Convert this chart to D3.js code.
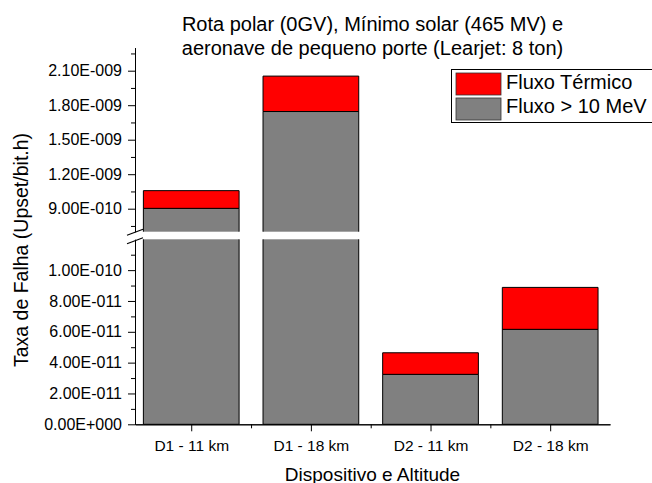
<!DOCTYPE html>
<html>
<head>
<meta charset="utf-8">
<script src="https://cdn.jsdelivr.net/npm/d3@7"></script>
<style>
  body { margin: 0; background: #fff; }
  svg { display: block; font-family: "Liberation Sans", Arial, sans-serif; }
</style>
</head>
<body>
<svg id="chart" width="652" height="483"></svg>
<script>
'use strict';

// data
var categories = ["D1 - 11 km", "D1 - 18 km", "D2 - 11 km", "D2 - 18 km"];
var fluxoAlto = [9.03e-10, 1.745e-9, 3.24e-11, 6.16e-11];     // Fluxo > 10 MeV
var fluxoTermico = [1.54e-10, 3.08e-10, 1.40e-11, 2.72e-11];  // Fluxo Térmico
var lowerTicks = [0, 2e-11, 4e-11, 6e-11, 8e-11, 1e-10];
var lowerMinor = [1e-11, 3e-11, 5e-11, 7e-11, 9e-11, 1.1e-10];
var upperTicks = [9e-10, 1.2e-9, 1.5e-9, 1.8e-9, 2.1e-9];
var upperMinor = [7.5e-10, 1.05e-9, 1.35e-9, 1.65e-9, 1.95e-9, 2.25e-9];
var legendLabels = ["Fluxo Térmico", "Fluxo > 10 MeV"];

var RED = "#ff0000";
var GRAY = "#808080";

var svg = d3.select("#chart");

// scales: x categorical positions, y broken in two pieces
var xScale = d3.scaleLinear().domain([0.53, 4.5]).range([135, 610]);
var yLow = d3.scaleLinear().domain([0, 1.2e-10]).range([424.3, 239.3]);
var yHigh = d3.scaleLinear().domain([7e-10, 2.3e-9]).range([231.7, 47.7]);
var barWidth = (xScale(2) - xScale(1)) * 0.8;

function sciFormat(v) {
    if (v === 0) return "0.00E+000";
    var e = Math.floor(Math.log10(v) + 1e-9);
    var m = v / Math.pow(10, e);
    var sign = e < 0 ? "-" : "+";
    return m.toFixed(2) + "E" + sign + String(Math.abs(e)).padStart(3, "0");
}

// draw a bar piece within one y segment; clipped edges get no stroke
function drawPiece(g, i, v0, v1, scale, fill) {
    var d = scale.domain();
    var a = Math.max(v0, d[0]), b = Math.min(v1, d[1]);
    if (b <= a) return;
    var x0 = xScale(i + 1) - barWidth / 2, x1 = x0 + barWidth;
    var yb = scale(a), yt = scale(b);
    g.append("rect")
        .attr("x", x0).attr("y", yt)
        .attr("width", barWidth).attr("height", yb - yt)
        .attr("fill", fill);
    var p = d3.path();
    p.moveTo(x0, yb);
    p.lineTo(x0, yt);
    if (b === v1) p.lineTo(x1, yt); else p.moveTo(x1, yt);
    p.lineTo(x1, yb);
    if (a === v0) p.lineTo(x0, yb);
    g.append("path").attr("d", p.toString())
        .attr("fill", "none").attr("stroke", "#000").attr("stroke-width", 1);
}

var bars = svg.append("g");
categories.forEach(function (c, i) {
    var base = fluxoAlto[i];
    var top = base + fluxoTermico[i];
    [yLow, yHigh].forEach(function (s) {
        drawPiece(bars, i, 0, base, s, GRAY);
        drawPiece(bars, i, base, top, s, RED);
    });
});

// y axes (two segments)
function yAxis(scale, ticks, minor) {
    svg.append("g")
        .attr("transform", "translate(135,0)")
        .call(d3.axisLeft(scale).tickValues(minor).tickSize(4).tickSizeOuter(0).tickFormat(""));
    svg.append("g")
        .attr("class", "y axis")
        .attr("transform", "translate(135,0)")
        .call(d3.axisLeft(scale).tickValues(ticks).tickSize(7).tickSizeOuter(0)
            .tickPadding(6).tickFormat(sciFormat));
}
yAxis(yLow, lowerTicks, lowerMinor);
yAxis(yHigh, upperTicks, upperMinor);

// break marks
[yHigh.range()[0] + 0.5, yLow.range()[1] + 1.5].forEach(function (y) {
    svg.append("line")
        .attr("x1", 127).attr("y1", y + 3)
        .attr("x2", 143).attr("y2", y - 3)
        .attr("stroke", "#000").attr("stroke-width", 1.2);
});

// x axis
svg.append("g")
    .attr("transform", "translate(0,424.3)")
    .call(d3.axisBottom(xScale).tickValues([1.5, 2.5, 3.5]).tickSize(4).tickSizeOuter(0).tickFormat(""));
svg.append("g")
    .attr("class", "x axis")
    .attr("transform", "translate(0,424.3)")
    .call(d3.axisBottom(xScale).tickValues([1, 2, 3, 4]).tickSize(7).tickSizeOuter(0)
        .tickPadding(9).tickFormat(function (d) { return categories[d - 1]; }));

svg.selectAll(".axis text")
    .attr("fill", "#000")
    .style("font-family", "'Liberation Sans', Arial, sans-serif");
svg.selectAll(".y.axis text").style("font-size", "16px");
svg.selectAll(".x.axis text").style("font-size", "15.5px");
svg.selectAll(".domain, .tick line").attr("stroke", "#000");

// titles
var title = svg.append("text")
    .attr("text-anchor", "middle")
    .style("font-size", "20px");
title.append("tspan").attr("x", 372.5).attr("y", 30.5)
    .text("Rota polar (0GV), Mínimo solar (465 MV) e");
title.append("tspan").attr("x", 372.5).attr("y", 54.5)
    .text("aeronave de pequeno porte (Learjet: 8 ton)");

svg.append("text")
    .attr("x", 372.5).attr("y", 480.5)
    .attr("text-anchor", "middle")
    .style("font-size", "19px")
    .text("Dispositivo e Altitude");

svg.append("text")
    .attr("transform", "translate(28,250) rotate(-90)")
    .attr("text-anchor", "middle")
    .style("font-size", "19.5px")
    .text("Taxa de Falha (Upset/bit.h)");

// legend
var legend = svg.append("g");
legend.append("rect")
    .attr("x", 451.5).attr("y", 69.5)
    .attr("width", 205).attr("height", 53)
    .attr("fill", "#fff").attr("stroke", "#000");
[RED, GRAY].forEach(function (col, i) {
    legend.append("rect")
        .attr("x", 456).attr("y", 73 + i * 25)
        .attr("width", 45).attr("height", 22)
        .attr("fill", col).attr("stroke", "#333").attr("stroke-width", 0.8);
    legend.append("text")
        .attr("x", 506).attr("y", 88.5 + i * 24.8)
        .style("font-size", "20px")
        .text(legendLabels[i]);
});
</script>
</body>
</html>
